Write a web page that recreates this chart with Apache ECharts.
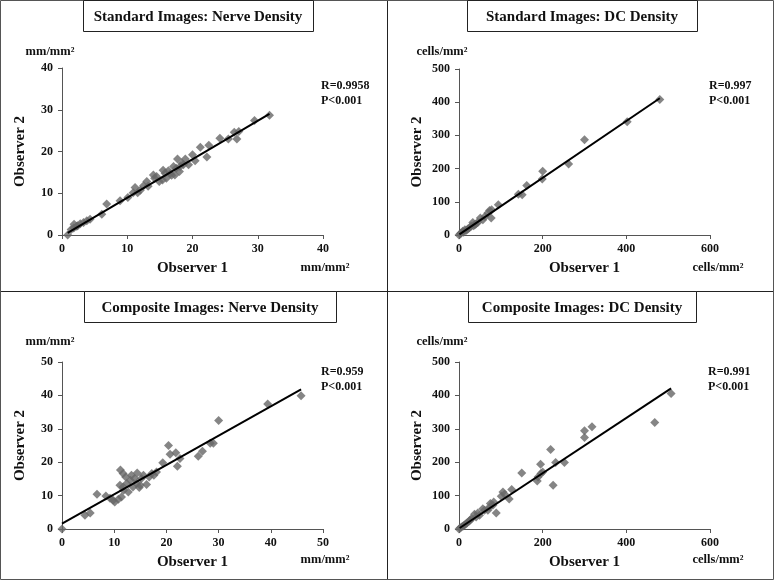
<!DOCTYPE html>
<html>
<head>
<meta charset="utf-8">
<script src="https://cdn.jsdelivr.net/npm/echarts@6/dist/echarts.min.js"></script>
<style>html,body{margin:0;padding:0;background:#fff}#c{width:775px;height:582px}</style>
</head>
<body>
<div id="c"></div>
<script>
// ---------- data ----------
const panelTitles = ['Standard Images: Nerve Density', 'Standard Images: DC Density', 'Composite Images: Nerve Density', 'Composite Images: DC Density'];
const unitLabels = ['mm/mm²', 'cells/mm²', 'mm/mm²', 'cells/mm²'];
const statR = ['R=0.9958', 'R=0.997', 'R=0.959', 'R=0.991'];
const statP = ['P<0.001', 'P<0.001', 'P<0.001', 'P<0.001'];
const axisMax = [40, 600, 50, 600];
const axisMaxY = [40, 500, 50, 500];
const axisStepX = [10, 200, 10, 200];
const axisStepY = [10, 100, 10, 100];

// Standard images: nerve density (mm/mm²)
const stdNerveObs1 = [0.87,1.4,1.85,2.25,2.8,3.3,3.8,4.3,1.8,2.4,6.1,6.85,8.9,10.1,10.9,11.2,11.6,12,12.5,13,13.2,14,14.5,14.9,15.5,15.8,16,16.6,17.1,17.3,17.7,18,18.4,18.9,19.4,20,20.4,21.2,22.2,22.5,24.2,25.5,26.4,26.8,27.1,29.5,31.8,14.2,16.3,16.8,17.5,18.1,18.6,15.4];
const stdNerveObs2 = [0,1.3,2.6,2.1,2.7,3.0,3.4,3.8,1.7,2.2,5.0,7.4,8.2,9.0,10.1,11.4,10.1,10.7,11.8,12.8,11.7,14.4,14,12.8,15.5,14.8,13.6,14.7,16.4,14.4,18.2,15.2,17.2,18.2,16.8,19.2,17.8,21,18.7,21.5,23.2,23,24.6,23,24.8,27.4,28.7,13.6,15.4,14.3,16,16.4,16.8,13.2];
const stdNerveFitX = [0.87, 31.8];
const stdNerveFitY = [0.5, 29.0];

// Standard images: DC density (cells/mm²)
const stdDcObs1 = [0,5,9,14,21,29,33,38,45,51,57,62,69,73,77,78,94,142,151,162,199,200,262,300,402,480,3,11,18,25,35,41];
const stdDcObs2 = [0,6,11,16,18,26,38,31,38,51,46,56,66,74,51,76,91,123,121,149,169,192,214,287,341,408,3,8,14,22,28,34];
const stdDcFitX = [1, 480];
const stdDcFitY = [2, 412];

// Composite images: nerve density (mm/mm²)
const compNerveObs1 = [0,4.4,5.4,6.7,8.4,9.2,10.1,10.8,9.8,11.2,11.7,11.4,11.8,12.4,11.7,12.7,13.1,13.6,13.9,14.3,14.4,14.8,15.2,15.6,16.2,16.7,17.2,17.6,18.1,19.3,20.4,20.7,21.8,22.1,22.6,26.1,26.9,28.4,29,30,39.4,45.8,12.2,13.3,15.0,11.1];
const compNerveObs2 = [0,4.1,4.8,10.4,9.9,9.2,8.1,8.9,8.6,17.7,16.6,9.6,11.6,13.6,12.6,11.1,14.6,12.6,15.1,13.6,16.8,12.4,15.1,16.1,13.3,15.6,16.6,16.1,17.1,19.8,25.0,22.4,22.8,18.8,21.1,21.8,23.3,25.7,25.7,32.5,37.4,39.9,15.6,16.1,13.1,13.1];
const compNerveFitX = [0, 45.8];
const compNerveFitY = [1.6, 41.8];

// Composite images: DC density (cells/mm²)
const compDcObs1 = [0,6,13,19,25,30,37,41,49,57,69,75,81,89,101,105,120,126,150,187,189,195,200,219,225,231,252,300,300,318,468,507,3,10,16,27,45,61,73,83,109,196];
const compDcObs2 = [0,6,12,18,24,31,44,36,41,61,56,76,71,48,98,111,90,118,168,144,156,194,171,238,131,199,199,274,294,306,319,406,3,9,15,28,48,56,66,81,104,166];
const compDcFitX = [1.6, 507];
const compDcFitY = [3, 421];

// ---------- layout ----------
const grids = [
  {left: 62, top: 68, width: 261, height: 167},
  {left: 459, top: 69, width: 251, height: 166},
  {left: 62, top: 362, width: 261, height: 167},
  {left: 459, top: 362, width: 251, height: 167}
];
const titleBoxes = [[83, 313, 0], [467, 697, 0], [84, 336, 291], [468, 696, 291]];
const unitTop = [[50, 52], [442, 52], [50, 342], [442, 342]];
const unitBottom = [[325, 268], [718, 268], [325, 560], [718, 560]];
const statPos = [[321, 93], [709, 93], [321, 379], [708, 379]];

const FONT = '"Liberation Serif", "Times New Roman", serif';
const obs1 = [stdNerveObs1, stdDcObs1, compNerveObs1, compDcObs1];
const obs2 = [stdNerveObs2, stdDcObs2, compNerveObs2, compDcObs2];
const fitX = [stdNerveFitX, stdDcFitX, compNerveFitX, compDcFitX];
const fitY = [stdNerveFitY, stdDcFitY, compNerveFitY, compDcFitY];

const labelStyle = {fontFamily: FONT, fontWeight: 'bold', fontSize: 12, color: '#111'};
const xAxes = [], yAxes = [], series = [], graphic = [];

graphic.push({type: 'rect', shape: {x: 0.5, y: 0.5, width: 773, height: 579}, style: {fill: null, stroke: '#555', lineWidth: 1}, z: 1});
graphic.push({type: 'line', shape: {x1: 387.5, y1: 0, x2: 387.5, y2: 580}, style: {stroke: '#222', lineWidth: 1}});
graphic.push({type: 'line', shape: {x1: 0, y1: 291.5, x2: 774, y2: 291.5}, style: {stroke: '#222', lineWidth: 1}});

for (let i = 0; i < 4; i++) {
  xAxes.push({
    type: 'value', gridIndex: i, min: 0, max: axisMax[i], interval: axisStepX[i],
    splitLine: {show: false},
    axisLine: {show: true, onZero: false, lineStyle: {color: '#555', width: 1}},
    axisTick: {show: true, length: 4, lineStyle: {color: '#555'}},
    axisLabel: Object.assign({margin: 8}, labelStyle),
    name: 'Observer 1', nameLocation: 'middle', nameGap: 26,
    nameTextStyle: {fontFamily: FONT, fontWeight: 'bold', fontSize: 15, color: '#111'}
  });
  yAxes.push({
    type: 'value', gridIndex: i, min: 0, max: axisMaxY[i], interval: axisStepY[i],
    splitLine: {show: false},
    axisLine: {show: true, onZero: false, lineStyle: {color: '#555', width: 1}},
    axisTick: {show: true, length: 4, lineStyle: {color: '#555'}},
    axisLabel: Object.assign({margin: 9}, labelStyle),
    name: 'Observer 2', nameLocation: 'middle', nameGap: 34,
    nameTextStyle: {fontFamily: FONT, fontWeight: 'bold', fontSize: 15, color: '#111'}
  });
  series.push({
    type: 'scatter', xAxisIndex: i, yAxisIndex: i, symbol: 'diamond', symbolSize: 9,
    itemStyle: {color: '#666666'},
    data: obs1[i].map((v, k) => [v, obs2[i][k]]), z: 2
  });
  series.push({
    type: 'line', xAxisIndex: i, yAxisIndex: i, symbol: 'none',
    lineStyle: {color: '#000', width: 2},
    data: fitX[i].map((v, k) => [v, fitY[i][k]]), z: 3
  });
  const tb = titleBoxes[i];
  graphic.push({type: 'rect', shape: {x: tb[0] + 0.5, y: tb[2] + 0.5, width: tb[1] - tb[0], height: 31}, style: {fill: '#fff', stroke: '#222', lineWidth: 1}, z: 5});
  graphic.push({type: 'text', x: (tb[0] + tb[1]) / 2, y: tb[2] + 17, style: {text: panelTitles[i], font: 'bold 15px ' + FONT, fill: '#111', textAlign: 'center', textVerticalAlign: 'middle'}, z: 6});
  graphic.push({type: 'text', x: unitTop[i][0], y: unitTop[i][1], style: {text: unitLabels[i], font: 'bold 12.5px ' + FONT, fill: '#111', textAlign: 'center', textVerticalAlign: 'middle'}});
  graphic.push({type: 'text', x: unitBottom[i][0], y: unitBottom[i][1], style: {text: unitLabels[i], font: 'bold 12.5px ' + FONT, fill: '#111', textAlign: 'center', textVerticalAlign: 'middle'}});
  graphic.push({type: 'text', x: statPos[i][0], y: statPos[i][1], style: {text: statR[i] + '\n' + statP[i], font: 'bold 12px ' + FONT, fill: '#111', textAlign: 'left', textVerticalAlign: 'middle', lineHeight: 15}});
}

const chart = echarts.init(document.getElementById('c'), null, {renderer: 'canvas'});
chart.setOption({
  animation: false,
  backgroundColor: '#fff',
  grid: grids.map(g => Object.assign({containLabel: false}, g)),
  xAxis: xAxes, yAxis: yAxes, series: series, graphic: graphic
});
</script>
</body>
</html>
